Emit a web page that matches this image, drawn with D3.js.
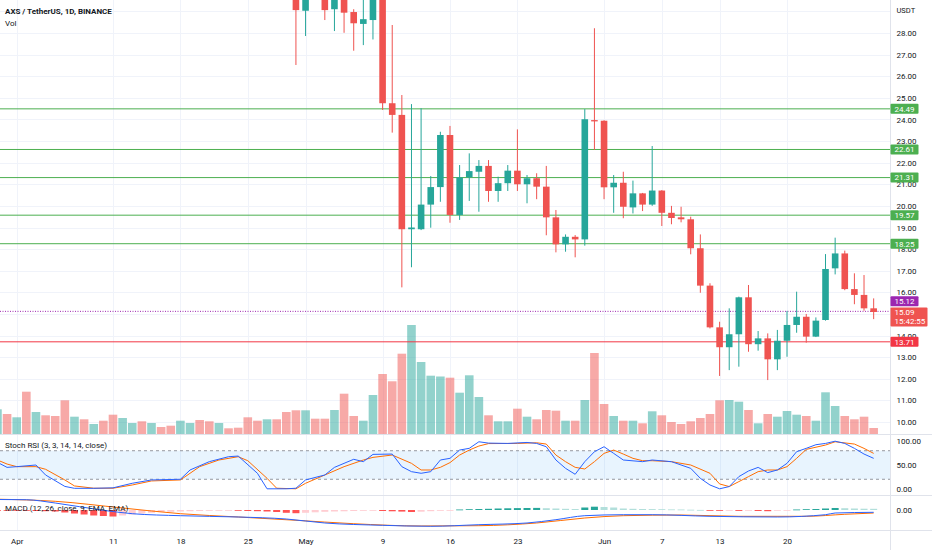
<!DOCTYPE html>
<html lang="en">
<head>
<meta charset="UTF-8">
<title>AXS / TetherUS, 1D, BINANCE</title>
<script src="https://d3js.org/d3.v7.min.js"></script>
<style>
    body { margin: 0; background: #fff; }
    svg { display: block; font-family: Roboto, "Noto Sans", sans-serif; }
</style>
</head>
<body>
<svg width="932" height="550"></svg>
<script>
    // ---- data ----
    const firstDay = "2022-03-30";   // first bar in view (partly)
    const lastDay = "2022-06-30";    // exclusive

    // volume per day (arbitrary units), 1 = up day, 0 = down day
    const volume = [
        2.47, 2.0, 1.67, 4.23, 2.2, 1.87, 1.8, 3.37, 1.73, 1.47,
        1.0, 1.33, 1.93, 1.6, 1.1, 1.27, 1.1, 0.7, 0.83, 1.33,
        1.1, 1.4, 1.27, 1.1, 0.57, 0.63, 1.67, 1.33, 1.47, 1.47,
        2.2, 2.37, 2.37, 1.53, 1.53, 2.4, 4.03, 1.8, 1.33, 3.9,
        6.0, 5.27, 8.03, 10.9, 7.2, 5.83, 5.75, 5.63, 4.13, 5.87,
        3.7, 1.87, 1.27, 1.27, 2.53, 1.73, 1.47, 2.4, 2.33, 1.33,
        1.33, 3.4, 8.1, 3.0, 1.8, 1.33, 1.33, 1.07, 2.27, 1.87,
        1.2, 1.0, 1.27, 1.6, 2.0, 3.37, 3.4, 3.23, 2.4, 1.07,
        2.0, 1.73, 2.3, 1.93, 1.8, 1.33, 4.17, 2.8, 1.8, 1.47,
        1.73, 0.6
    ];
    const volumeUp = [
        1, 0, 1, 0, 1, 0, 0, 0, 1, 0,
        1, 0, 0, 1, 1, 0, 1, 0, 0, 1,
        1, 0, 0, 1, 0, 0, 0, 0, 1, 0,
        0, 0, 1, 0, 0, 1, 0, 0, 1, 1,
        0, 0, 0, 1, 1, 1, 1, 0, 1, 1,
        1, 0, 1, 1, 0, 1, 0, 0, 0, 1,
        0, 1, 0, 0, 1, 0, 1, 0, 1, 0,
        0, 0, 0, 0, 0, 0, 1, 1, 0, 1,
        0, 1, 1, 1, 0, 1, 1, 1, 0, 0,
        0, 0
    ];

    // candles from Apr 30 (bar index 31) to Jun 29
    const candleStart = 31;
    const opens = [
        30.6, 29.03, 30.9, 30.5, 29.1, 31.9, 28.97, 28.42, 28.6, 29.8,
        24.75, 24.21, 18.92, 18.92, 20.06, 20.87, 23.28, 19.58, 21.32, 21.58,
        21.85, 20.69, 21.05, 21.63, 21.0, 21.28, 20.89, 19.47, 18.22, 18.57,
        18.45, 23.97, 23.94, 20.86, 21.07, 19.93, 20.58, 20.06, 20.71, 19.68,
        19.47, 19.38, 18.04, 16.31, 14.38, 13.46, 14.06, 15.77, 13.6, 13.87,
        12.9, 13.76, 14.49, 14.87, 13.95, 14.72, 17.11, 17.8, 16.15, 15.88,
        15.26
    ];
    const highs = [
        31.0, 31.6, 32.2, 30.8, 32.4, 32.4, 29.1, 29.8, 30.2, 30.1,
        28.37, 25.13, 24.71, 24.52, 21.38, 23.43, 23.7, 21.89, 22.43, 22.12,
        22.12, 21.35, 21.89, 23.54, 21.43, 21.51, 21.85, 19.81, 18.68, 18.65,
        24.48, 28.22, 23.96, 21.43, 21.58, 21.17, 20.6, 22.77, 20.73, 20.0,
        19.96, 19.5, 18.68, 16.42, 14.64, 15.26, 15.8, 16.34, 14.21, 14.1,
        14.26, 15.14, 16.03, 15.0, 14.84, 17.77, 18.53, 17.93, 16.88, 16.8,
        15.72
    ];
    const lows = [
        26.52, 27.86, 29.9, 28.6, 28.09, 28.01, 27.18, 27.44, 27.7, 24.44,
        23.39, 16.23, 17.16, 18.88, 18.99, 20.19, 19.22, 19.35, 20.23, 19.73,
        20.19, 20.19, 20.69, 20.69, 20.12, 20.31, 18.64, 17.85, 17.88, 17.62,
        18.16, 22.59, 20.31, 19.68, 19.43, 19.65, 19.76, 20.0, 19.07, 19.15,
        19.24, 17.76, 15.98, 14.33, 12.13, 12.4, 12.56, 13.25, 13.3, 11.94,
        12.4, 13.02, 14.13, 13.67, 13.93, 14.69, 16.83, 16.1, 15.45, 15.15,
        14.76
    ];
    const closes = [
        29.06, 30.9, 30.5, 29.06, 31.9, 28.94, 28.45, 28.64, 29.8, 24.75,
        24.21, 18.92, 19.0, 20.06, 20.87, 23.28, 19.58, 21.32, 21.61, 21.85,
        20.69, 21.05, 21.63, 21.0, 21.28, 20.89, 19.47, 18.22, 18.57, 18.45,
        24.01, 23.91, 20.86, 21.07, 19.96, 20.58, 20.06, 20.71, 19.68, 19.44,
        19.38, 18.04, 16.31, 14.38, 13.46, 14.06, 15.77, 13.6, 13.87, 12.9,
        13.76, 14.49, 14.87, 13.95, 14.69, 17.08, 17.8, 16.15, 15.88, 15.26,
        15.09
    ];

    // horizontal levels drawn on the chart
    const greenLevels = [24.49, 22.61, 21.31, 19.57, 18.25];
    const redLevel = 13.71;
    const markPrice = 15.12;
    const lastPrice = 15.09;
    const countdown = "15:42:55";

    // Stoch RSI %K / %D as [bar index, value]
    const stochK = [
        [0, 55.6], [1, 45], [2, 46.5], [4, 50], [5, 29], [7, 5], [8, 1], [10, 1], [12, 2],
        [14, 11.6], [16, 18.6], [19, 20], [20, 39.5], [22, 57], [24, 67.4], [25, 68.8],
        [27, 32.6], [28, 0], [30, 0], [31, 1.2], [32, 18.6], [34, 29], [35, 45], [37, 62],
        [38, 57], [39, 72.3], [41, 73], [42, 46.5], [43, 36], [44, 32.6], [45, 36], [46, 60.5],
        [47, 64], [48, 81.4], [49, 85], [50, 98.8], [51, 96], [53, 95.3], [55, 97.4], [56, 95.3],
        [57, 88.4], [58, 60.5], [59, 43], [60, 30.5], [61, 57], [62, 77.9], [63, 88.4], [64, 74.4],
        [65, 60.5], [67, 57], [68, 60.5], [70, 57], [72, 43], [73, 22], [74, 8], [75, 0],
        [76, 4.7], [77, 25.6], [78, 37.4], [79, 45], [80, 34], [81, 39.5], [82, 53.5], [83, 78],
        [84, 85], [85, 92.6], [86, 95.3], [87, 100], [88, 95.3], [89, 85], [90, 73], [91, 64]
    ];
    const stochD = [
        [0, 60.5], [1, 52], [2, 46.5], [4, 46.5], [5, 41], [7, 18.6], [8, 6], [10, 1.2], [12, 1.2],
        [14, 8], [16, 16.5], [19, 18.6], [21, 46.5], [23, 60.5], [25, 67.4], [26, 59], [28, 22],
        [29, 1.2], [31, 0], [32, 11.6], [34, 29], [36, 46.5], [38, 60.5], [39, 66], [41, 71],
        [43, 53.5], [44, 39.5], [45, 39.5], [46, 45.1], [47, 55], [48, 70.9], [49, 81.4], [50, 89.8],
        [51, 95], [54, 95.3], [56, 96.7], [57, 94], [58, 70.9], [59, 57], [60, 45.1], [61, 41.6],
        [62, 57], [63, 74.4], [64, 81.4], [65, 73], [66, 64], [67, 59], [68, 59], [70, 57],
        [72, 50], [74, 32.6], [75, 10.2], [76, 4.7], [77, 15.1], [78, 25.6], [79, 36], [80, 39.5],
        [81, 39.5], [82, 46.5], [83, 64], [84, 82.8], [86, 91.9], [87, 98.8], [89, 94], [90, 84.9],
        [91, 74.4]
    ];

    // MACD (12, 26, 9) line and signal as [bar index, value]; histogram per bar
    const macdLine = [
        [0, 3.5], [3, 3.43], [6, 2.33], [11, -0.1], [14, -1.23], [19, -1.9], [25, -2.33],
        [30, -3.0], [34, -4.33], [40, -5.1], [45, -5.43], [50, -4.9], [55, -4.33], [58, -3.23],
        [61, -1.9], [65, -1.57], [68, -1.57], [74, -2.1], [81, -2.33], [86, -1.57], [87, -1.0],
        [91, -0.77]
    ];
    const macdSignal = [
        [0, 3.6], [6, 2.9], [13, 0.67], [19, -1.23], [25, -2.33], [31, -3.43], [37, -4.57],
        [44, -5.33], [50, -5.23], [56, -4.33], [61, -2.67], [65, -1.9], [71, -1.67], [77, -2.1],
        [84, -2.1], [88, -1.43], [91, -1.0]
    ];
    const macdHist = [
        -0.17, -0.23, -0.27, -0.27, -0.33, -0.4, -0.5, -0.83, -1.17, -1.5,
        -1.83, -2.0, -2.17, -1.83, -1.5, -1.17, -0.93, -0.73, -0.6, -0.5,
        -0.4, -0.33, -0.27, -0.2, -0.17, -0.2, -0.33, -0.4, -0.5, -0.67,
        -0.93, -1.07, -0.93, -0.77, -0.6, -0.5, -0.43, -0.33, -0.27, -0.2,
        -0.33, -0.43, -0.53, -0.67, -0.57, -0.4, -0.27, -0.1, 0.17, 0.27,
        0.33, 0.4, 0.5, 0.57, 0.63, 0.67, 0.7, 0.6, 0.5, 0.4,
        0.33, 0.83, 1.1, 1.0, 0.83, 0.5, 0.4, 0.33, 0.3, 0.27,
        0.2, 0.17, 0.1, 0.03, -0.13, -0.27, -0.17, -0.3, -0.2, -0.33,
        -0.4, -0.17, -0.07, 0.17, 0.27, 0.33, 0.5, 0.67, 0.6, 0.5,
        0.43, 0.4
    ];

    // axis ticks (15.00 sits fully under the last-price tag, so it is not shown)
    const priceTicks = [10, 11, 12, 13, 14, 16, 17, 18, 19, 20, 21, 22, 23, 24, 25, 26, 27, 28];
    const gridPrices = [10, 11, 12, 13, 14, 15, 16, 17, 18, 19, 20, 21, 22, 23, 24, 25, 26, 27, 28, 29];
    const dateTicks = ["2022-04-01", "2022-04-11", "2022-04-18", "2022-04-25", "2022-05-01", "2022-05-09",
                       "2022-05-16", "2022-05-23", "2022-06-01", "2022-06-07", "2022-06-13", "2022-06-20"];
    const dateLabels = ["Apr", "11", "18", "25", "May", "9", "16", "23", "Jun", "7", "13", "20"];

    // ---- layout ----
    const W = 932, H = 550;
    const axisX = 890.5;          // right price scale border
    const priceBottom = 434, stochTop = 435, stochBottom = 495, macdBottom = 530;
    const upColor = "#26a69a", downColor = "#ef5350";
    const textColor = "#131722", gridColor = "#f0f3fa", borderColor = "#e0e3eb";

    const days = d3.utcDay.range(new Date(firstDay), new Date(lastDay));

    const x = d3.scaleUtc()
        .domain([new Date("2022-04-01"), new Date("2022-06-20")])
        .range([16.7, 787]);
    const xi = i => x(days[i]);

    const yPrice = d3.scaleLinear().domain([10, 28]).range([422, 33]);
    const yVol = d3.scaleLinear().domain([0, 14.5]).range([priceBottom, 289]);
    const yStoch = d3.scaleLinear().domain([0, 100]).range([488.8, 441.2]);
    const yMacd = d3.scaleLinear().domain([-6, 4]).range([528, 498]);

    const svg = d3.select("svg");
    const defs = svg.append("defs");
    function clip(id, y0, y1) {
        defs.append("clipPath").attr("id", id)
            .append("rect").attr("x", 0).attr("y", y0).attr("width", axisX).attr("height", y1 - y0);
        return `url(#${id})`;
    }

    // ---- grid ----
    const grid = svg.append("g");
    grid.selectAll("line.hg")
        .data(gridPrices)
        .join("line")
        .attr("x1", 0).attr("x2", axisX)
        .attr("y1", d => Math.round(yPrice(d)) + 0.5)
        .attr("y2", d => Math.round(yPrice(d)) + 0.5)
        .attr("stroke", gridColor);
    grid.selectAll("line.vg")
        .data(dateTicks)
        .join("line")
        .attr("x1", d => Math.round(x(new Date(d))) + 0.5)
        .attr("x2", d => Math.round(x(new Date(d))) + 0.5)
        .attr("y1", 0).attr("y2", macdBottom)
        .attr("stroke", gridColor);

    // ---- price pane ----
    const pricePane = svg.append("g").attr("clip-path", clip("clipPrice", 0, priceBottom));

    // volume bars
    pricePane.append("g")
        .selectAll("rect")
        .data(volume)
        .join("rect")
        .attr("x", (d, i) => xi(i) - 4.3)
        .attr("width", 8.6)
        .attr("y", d => yVol(d))
        .attr("height", d => priceBottom - yVol(d))
        .attr("fill", (d, i) => volumeUp[i] ? upColor : downColor)
        .attr("fill-opacity", 0.5);

    // support / resistance lines
    pricePane.append("g")
        .selectAll("line")
        .data(greenLevels)
        .join("line")
        .attr("x1", 0).attr("x2", axisX)
        .attr("y1", d => yPrice(d)).attr("y2", d => yPrice(d))
        .attr("stroke", "#4caf50").attr("stroke-width", 1);
    pricePane.append("line")
        .attr("x1", 0).attr("x2", axisX)
        .attr("y1", yPrice(redLevel)).attr("y2", yPrice(redLevel))
        .attr("stroke", "#f23645").attr("stroke-width", 1);
    pricePane.append("line")
        .attr("x1", 0).attr("x2", axisX)
        .attr("y1", yPrice(markPrice)).attr("y2", yPrice(markPrice))
        .attr("stroke", "#9c27b0").attr("stroke-width", 1)
        .attr("stroke-dasharray", "1,1.5");

    // candles
    const candles = opens.map((o, k) => ({
        i: candleStart + k, o, h: highs[k], l: lows[k], c: closes[k]
    }));
    const candleG = pricePane.append("g")
        .selectAll("g")
        .data(candles)
        .join("g")
        .attr("fill", d => d.c >= d.o ? upColor : downColor)
        .attr("stroke", d => d.c >= d.o ? upColor : downColor);
    candleG.append("line")
        .attr("x1", d => xi(d.i)).attr("x2", d => xi(d.i))
        .attr("y1", d => yPrice(d.h)).attr("y2", d => yPrice(d.l))
        .attr("stroke-width", 1);
    candleG.append("rect")
        .attr("stroke", "none")
        .attr("x", d => xi(d.i) - 3.3)
        .attr("width", 6.6)
        .attr("y", d => yPrice(Math.max(d.o, d.c)))
        .attr("height", d => Math.max(1.2, Math.abs(yPrice(d.o) - yPrice(d.c))));

    // legend texts
    svg.append("text")
        .attr("x", 5).attr("y", 14)
        .attr("font-size", 8).attr("font-weight", "bold").attr("fill", textColor)
        .text("AXS / TetherUS, 1D, BINANCE");
    svg.append("text")
        .attr("x", 5).attr("y", 26)
        .attr("font-size", 8).attr("fill", textColor)
        .text("Vol");

    // ---- Stoch RSI pane ----
    const stochPane = svg.append("g").attr("clip-path", clip("clipStoch", stochTop, stochBottom));
    stochPane.append("rect")
        .attr("x", 0).attr("width", axisX)
        .attr("y", yStoch(80)).attr("height", yStoch(20) - yStoch(80))
        .attr("fill", "#2196f3").attr("fill-opacity", 0.1);
    stochPane.selectAll("line.band")
        .data([80, 20])
        .join("line")
        .attr("x1", 0).attr("x2", axisX)
        .attr("y1", d => yStoch(d)).attr("y2", d => yStoch(d))
        .attr("stroke", "#9598a1").attr("stroke-dasharray", "3,3");

    const lineOf = yScale => d3.line().x(d => xi(d[0])).y(d => yScale(d[1]));
    stochPane.append("path")
        .attr("d", lineOf(yStoch)(stochD))
        .attr("fill", "none").attr("stroke", "#ff6d00").attr("stroke-width", 1);
    stochPane.append("path")
        .attr("d", lineOf(yStoch)(stochK))
        .attr("fill", "none").attr("stroke", "#2962ff").attr("stroke-width", 1);

    svg.append("text")
        .attr("x", 5).attr("y", 448)
        .attr("font-size", 8).attr("fill", textColor)
        .text("Stoch RSI (3, 3, 14, 14, close)");

    // ---- MACD pane ----
    const macdPane = svg.append("g").attr("clip-path", clip("clipMacd", stochBottom + 1, macdBottom));
    macdPane.append("g")
        .selectAll("rect")
        .data(macdHist)
        .join("rect")
        .attr("x", (d, i) => xi(i) - 3.5)
        .attr("width", 7)
        .attr("y", d => Math.min(yMacd(d), yMacd(0)))
        .attr("height", d => Math.max(0.8, Math.abs(yMacd(d) - yMacd(0))))
        .attr("fill", (d, i) => {
            const prev = i > 0 ? macdHist[i - 1] : d;
            if (d >= 0) return d >= prev ? "#26a69a" : "#b2dfdb";
            return d <= prev ? "#ff5252" : "#ffcdd2";
        });
    macdPane.append("path")
        .attr("d", lineOf(yMacd).curve(d3.curveMonotoneX)(macdSignal))
        .attr("fill", "none").attr("stroke", "#ff6d00").attr("stroke-width", 1);
    macdPane.append("path")
        .attr("d", lineOf(yMacd).curve(d3.curveMonotoneX)(macdLine))
        .attr("fill", "none").attr("stroke", "#2962ff").attr("stroke-width", 1);

    svg.append("text")
        .attr("x", 5).attr("y", 510.5)
        .attr("font-size", 8).attr("fill", textColor)
        .text("MACD (12, 26, close, 9, EMA, EMA)");

    // ---- pane separators and scale border ----
    svg.selectAll("line.sep")
        .data([priceBottom + 0.5, stochBottom + 0.5, macdBottom + 0.5])
        .join("line")
        .attr("x1", 0).attr("x2", W)
        .attr("y1", d => d).attr("y2", d => d)
        .attr("stroke", borderColor);
    svg.append("line")
        .attr("x1", axisX).attr("x2", axisX)
        .attr("y1", 0).attr("y2", H)
        .attr("stroke", borderColor);

    // ---- right scales ----
    function rightAxis(scale, values) {
        const g = svg.append("g")
            .attr("transform", `translate(${axisX},0)`)
            .call(d3.axisRight(scale).tickValues(values).tickFormat(d3.format(".2f")).tickSize(0).tickPadding(6));
        g.select(".domain").remove();
        g.selectAll("text").attr("fill", textColor).attr("font-size", 8)
            .attr("font-family", "Roboto, 'Noto Sans', sans-serif");
        return g;
    }
    rightAxis(yPrice, priceTicks);
    rightAxis(yStoch, [0, 50, 100]);
    rightAxis(yMacd, [0]);

    svg.append("text")
        .attr("x", axisX + 6).attr("y", 13)
        .attr("font-size", 7.5).attr("fill", textColor)
        .text("USDT");

    // price tags on the scale
    function tag(yc, h, w, color, lines) {
        const g = svg.append("g");
        g.append("rect")
            .attr("x", axisX).attr("y", yc - h / 2)
            .attr("width", w).attr("height", h)
            .attr("fill", color).attr("rx", 1);
        lines.forEach((t, k) => {
            g.append("text")
                .attr("x", axisX + 4)
                .attr("y", yc - h / 2 + 7.8 + k * 9)
                .attr("font-size", 8).attr("fill", "#fff")
                .text(t);
        });
    }
    greenLevels.forEach(p => tag(yPrice(p), 10, 28, "#4caf50", [p.toFixed(2)]));
    tag(yPrice(redLevel), 10, 28, "#f23645", [redLevel.toFixed(2)]);
    tag(yPrice(markPrice) - 10, 10, 28, "#9c27b0", [markPrice.toFixed(2)]);
    tag(yPrice(lastPrice) + 5, 19, 37, "#ef5350", [lastPrice.toFixed(2), countdown]);

    // ---- time scale ----
    const xAxis = svg.append("g")
        .attr("transform", `translate(0,${macdBottom + 1})`)
        .call(d3.axisBottom(x)
            .tickValues(dateTicks.map(d => new Date(d)))
            .tickFormat((d, i) => dateLabels[i])
            .tickSize(0).tickPadding(7));
    xAxis.select(".domain").remove();
    xAxis.selectAll("text").attr("fill", textColor).attr("font-size", 8)
        .attr("font-family", "Roboto, 'Noto Sans', sans-serif");
</script>
</body>
</html>
